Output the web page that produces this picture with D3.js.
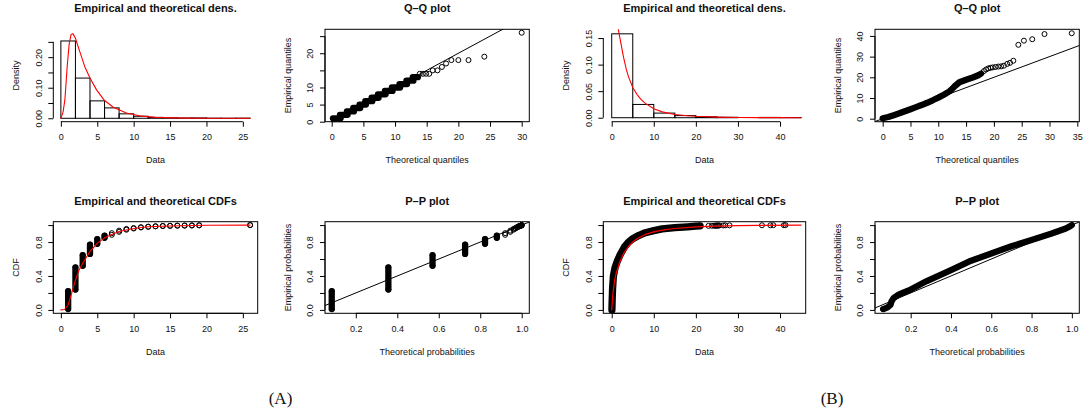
<!DOCTYPE html>
<html>
<head>
<script src="https://d3js.org/d3.v7.min.js"></script>
<title>fitdist diagnostics</title>
<style>
  body { margin: 0; background: #fff; font-family: "Liberation Sans", Arial, sans-serif; }
</style>
</head>
<body>
<div id="chart"></div>
<script>
// ---------------- data ----------------
// (A) discrete sample
const histA_breaks = [0, 2, 4, 6, 8, 10, 12, 14, 16, 18, 20, 22, 24, 26];
const histA_density = [0.253, 0.1316, 0.057, 0.034, 0.0145, 0.0066, 0.003, 0.0015, 0.001, 0.0012, 0.0003, 0.0002, 0.0004];
const densA_x = [0, 0.3, 0.55, 0.87, 1.15, 1.4, 1.65, 2.0, 2.6, 3.3, 4.0, 4.9, 6.0, 7.2, 9.0, 10.8, 13, 17, 21, 26];
const densA_y = [0, 0.02, 0.06, 0.17, 0.245, 0.274, 0.277, 0.262, 0.218, 0.168, 0.132, 0.093, 0.058, 0.036, 0.017, 0.008, 0.003, 0.0006, 0.0001, 0];

const qqA_level = [1, 2, 3, 4, 5, 6, 7, 8, 9, 10, 11, 12, 13];
const qqA_from = [0.2, 1.3, 2.4, 3.4, 4.4, 5.3, 6.3, 7.3, 8.4, 9.5, 10.7, 11.8, 12.8];
const qqA_to = [1.4, 2.5, 3.5, 4.5, 5.4, 6.4, 7.4, 8.5, 9.6, 10.8, 11.9, 12.9, 13.6];
const qqA_ptX = [13.9, 14.4, 14.9, 15.4, 15.95, 16.7, 17.4, 18.06, 18.9, 20.0, 21.6, 24.1, 30.0];
const qqA_ptY = [14, 14, 14, 14, 15, 15, 16, 17, 18, 18, 18, 19, 26];

const cdfA_value = [1, 2, 3, 4, 5, 6, 7, 8, 9, 10, 11, 12, 13, 14, 15, 16, 17, 18, 19, 26];
const empA_low = [0.01, 0.24, 0.52, 0.66, 0.78, 0.85, 0.885, 0.92, 0.945, 0.96, 0.972, 0.98, 0.985, 0.989, 0.991, 0.993, 0.994, 0.995, 0.997, 1.0];
const empA_high = [0.22, 0.50, 0.645, 0.77, 0.835, 0.875, 0.905, 0.935, 0.955, 0.965, 0.975, 0.982, 0.986, 0.99, 0.992, 0.994, 0.995, 0.997, 0.998, 1.0];
const cdfA_theoX = [0, 0.5, 1, 1.5, 2, 2.5, 3, 4, 5, 6, 7, 8, 10, 12, 15, 20, 26];
const cdfA_theoY = [0, 0.005, 0.06, 0.2, 0.35, 0.47, 0.55, 0.69, 0.785, 0.85, 0.89, 0.925, 0.96, 0.98, 0.99, 0.998, 1.0];
const ppA_theo = [0.084, 0.357, 0.57, 0.727, 0.823, 0.88, 0.92, 0.945, 0.96, 0.97, 0.977, 0.983, 0.987, 0.99, 0.993, 0.995, 0.997, 0.998, 0.999, 1.0];

// (B) continuous sample
const histB_breaks = [0, 5, 10, 15, 20, 25, 30, 35, 40, 45];
const histB_density = [0.158, 0.025, 0.0087, 0.004, 0.0017, 0.0008, 0, 0.0006, 0.0004];
const densB_x = [1.3, 1.6, 2, 2.8, 3.5, 4, 5, 6, 7, 8, 10, 12, 15, 18, 20, 25, 30, 35, 40, 45];
const densB_y = [0.185, 0.165, 0.148, 0.114, 0.09, 0.077, 0.057, 0.044, 0.034, 0.027, 0.017, 0.011, 0.0062, 0.0037, 0.0027, 0.0012, 0.0005, 0.0002, 0.0001, 0.00003];

const qqB_denseX = [0, 1, 2, 3, 4, 5, 6, 7, 8, 9, 10, 11, 12, 12.5, 13, 13.8, 15, 16.2, 17.2, 17.7];
const qqB_denseY = [0.2, 0.8, 1.7, 2.6, 3.6, 4.6, 5.6, 6.6, 7.7, 8.9, 10.2, 11.6, 13.2, 14.4, 15.8, 17.6, 18.8, 19.9, 21.0, 21.8];
const qqB_ptX = [18.2, 18.6, 19.0, 19.4, 19.8, 20.3, 20.8, 21.3, 21.8, 22.4, 22.9, 23.5, 24.4, 25.4, 26.9, 29.1, 34.0];
const qqB_ptY = [23.0, 23.8, 24.3, 24.6, 24.8, 25.0, 25.2, 25.3, 25.6, 26.5, 27.0, 28.0, 35.7, 37.7, 38.4, 40.9, 41.3];

const cdfB_denseX = [0.05, 0.1, 0.2, 0.4, 0.8, 1.3, 2, 3, 4, 5, 6.5, 8, 10, 12, 15, 18, 20, 21];
const cdfB_denseY = [0.0, 0.1, 0.25, 0.4, 0.5, 0.57, 0.65, 0.74, 0.8, 0.84, 0.88, 0.91, 0.935, 0.955, 0.97, 0.98, 0.988, 0.99];
const cdfB_ptY = [0.991, 0.992, 0.993, 0.993, 0.994, 0.994, 0.995, 0.995, 0.996, 0.996, 0.997, 0.997, 0.998, 0.998, 0.999, 0.999, 1.0];
const cdfB_theoX = [0, 0.3, 0.7, 1, 1.5, 2, 3, 4, 5, 6, 8, 10, 12, 15, 20, 25, 30, 35, 45];
const cdfB_theoY = [0, 0.2, 0.35, 0.42, 0.5, 0.58, 0.68, 0.75, 0.8, 0.84, 0.89, 0.92, 0.94, 0.96, 0.978, 0.988, 0.994, 0.997, 1.0];

const ppB_denseX = [0.065, 0.085, 0.1, 0.105, 0.115, 0.14, 0.16, 0.2, 0.28, 0.4, 0.5, 0.6, 0.7, 0.8, 0.9, 0.97, 0.99, 1.0];
const ppB_denseY = [0.01, 0.03, 0.06, 0.1, 0.14, 0.18, 0.2, 0.24, 0.34, 0.47, 0.58, 0.665, 0.75, 0.825, 0.9, 0.96, 0.985, 1.0];
const ppB_ptX = [0.062];
const ppB_ptY = [0.01];

// reference line y = x
const refLine = [-5, 60];

// tick values and labels
const ticksDensA_x = [0, 5, 10, 15, 20, 25], labDensA_x = ["0", "5", "10", "15", "20", "25"];
const ticksDensA_y = [0, 0.05, 0.1, 0.15, 0.2, 0.25], labDensA_y = ["0.00", "", "0.10", "", "0.20", ""];
const ticksQqA_x = [0, 5, 10, 15, 20, 25, 30], labQqA_x = ["0", "5", "10", "15", "20", "25", "30"];
const ticksQqA_y = [0, 5, 10, 15, 20, 25], labQqA_y = ["0", "5", "10", "", "20", ""];
const ticksDensB_x = [0, 10, 20, 30, 40], labDensB_x = ["0", "10", "20", "30", "40"];
const ticksDensB_y = [0, 0.05, 0.1, 0.15], labDensB_y = ["0.00", "0.05", "0.10", "0.15"];
const ticksQqB_x = [0, 5, 10, 15, 20, 25, 30, 35], labQqB_x = ["0", "5", "10", "15", "20", "25", "30", "35"];
const ticksQqB_y = [0, 10, 20, 30, 40], labQqB_y = ["0", "10", "20", "30", "40"];
const ticksCdf_y = [0, 0.2, 0.4, 0.6, 0.8, 1.0], labCdf_y = ["0.0", "", "0.4", "", "0.8", ""];
const ticksPp_x = [0.2, 0.4, 0.6, 0.8, 1.0], labPp_x = ["0.2", "0.4", "0.6", "0.8", "1.0"];

// ---------------- drawing ----------------
const W = 1085, H = 417;
const svg = d3.select("#chart").append("svg").attr("width", W).attr("height", H);
const defs = svg.append("defs");
let clipCount = 0;

const R = 2.5;       // point radius
const BAND = 6.3;    // width of a run of overlapping points

function makePanel(p) {
  const x = d3.scaleLinear().domain(p.xDomain).range([p.left, p.right]);
  const y = d3.scaleLinear().domain(p.yDomain).range([p.bottom, p.top]);
  const g = svg.append("g");
  const id = "clip" + (clipCount++);
  defs.append("clipPath").attr("id", id).append("rect")
    .attr("x", p.left).attr("y", p.top)
    .attr("width", p.right - p.left).attr("height", p.bottom - p.top);
  const plot = g.append("g").attr("clip-path", `url(#${id})`);

  if (p.box) {
    g.append("rect").attr("x", p.left).attr("y", p.top)
      .attr("width", p.right - p.left).attr("height", p.bottom - p.top)
      .attr("fill", "none").attr("stroke", "#000").attr("stroke-width", 1);
  }

  // x axis
  const xa = g.append("g").attr("transform", `translate(0,${p.bottom})`)
    .call(d3.axisBottom(x).tickValues(p.xTicks).tickSize(5).tickSizeOuter(0)
      .tickFormat((d, i) => p.xLabels[i]));
  xa.select(".domain").attr("d", `M${x(p.xTicks[0])},0H${x(p.xTicks[p.xTicks.length - 1])}`);
  xa.attr("font-size", 9).attr("font-family", "'Liberation Sans', Arial, sans-serif");
  xa.selectAll("text").attr("y", 18.6).attr("dy", null).attr("fill", "#111");

  // y axis, labels parallel to the axis
  const ya = g.append("g").attr("transform", `translate(${p.left},0)`)
    .call(d3.axisLeft(y).tickValues(p.yTicks).tickSize(5).tickSizeOuter(0)
      .tickFormat((d, i) => p.yLabels[i]));
  ya.select(".domain").attr("d", `M0,${y(p.yTicks[0])}V${y(p.yTicks[p.yTicks.length - 1])}`);
  ya.attr("font-size", 9).attr("font-family", "'Liberation Sans', Arial, sans-serif");
  ya.selectAll("text").attr("transform", "rotate(-90)").attr("x", 0).attr("y", -11.8)
    .attr("dy", null).attr("text-anchor", "middle").attr("fill", "#111");

  const cx = (p.left + p.right) / 2, cy = (p.top + p.bottom) / 2;
  g.append("text").attr("x", cx).attr("y", p.top - 17.1).attr("text-anchor", "middle")
    .attr("font-size", 11).attr("font-weight", "bold").attr("fill", "#111").text(p.title);
  g.append("text").attr("x", cx).attr("y", p.bottom + 41.5).attr("text-anchor", "middle")
    .attr("font-size", 9).attr("fill", "#111").text(p.xlab);
  g.append("text").attr("transform", `translate(${p.left - 34},${cy}) rotate(-90)`)
    .attr("text-anchor", "middle").attr("font-size", 9).attr("fill", "#111").text(p.ylab);

  return { x, y, plot };
}

function hist(P, breaks, dens) {
  P.plot.selectAll(null).data(dens).enter().append("rect")
    .attr("x", (d, i) => P.x(breaks[i]))
    .attr("width", (d, i) => P.x(breaks[i + 1]) - P.x(breaks[i]))
    .attr("y", d => P.y(d))
    .attr("height", d => P.y(0) - P.y(d))
    .attr("fill", "none").attr("stroke", "#000").attr("stroke-width", 1);
}

function curve(P, xs, ys, color, w) {
  P.plot.append("path")
    .datum(xs.map((v, i) => [v, ys[i]]))
    .attr("d", d3.line().x(d => P.x(d[0])).y(d => P.y(d[1])))
    .attr("fill", "none").attr("stroke", color).attr("stroke-width", w)
    .attr("stroke-linejoin", "round").attr("stroke-linecap", "round");
}

function points(P, xs, ys) {
  P.plot.selectAll(null).data(xs).enter().append("circle")
    .attr("cx", d => P.x(d)).attr("cy", (d, i) => P.y(ys[i])).attr("r", R)
    .attr("fill", "none").attr("stroke", "#000").attr("stroke-width", 1);
}

// vertical runs of tied points (ecdf / pp of a discrete sample)
function vStacks(P, xs, lo, hi) {
  xs.forEach((v, i) => {
    if (P.y(lo[i]) - P.y(hi[i]) > 2) {
      P.plot.append("line")
        .attr("x1", P.x(v)).attr("x2", P.x(v)).attr("y1", P.y(lo[i])).attr("y2", P.y(hi[i]))
        .attr("stroke", "#000").attr("stroke-width", BAND).attr("stroke-linecap", "round");
    }
  });
  points(P, xs, lo);
  points(P, xs, hi);
}

function refDiagonal(P) {
  P.plot.append("line")
    .attr("x1", P.x(refLine[0])).attr("y1", P.y(refLine[0]))
    .attr("x2", P.x(refLine[1])).attr("y2", P.y(refLine[1]))
    .attr("stroke", "#000").attr("stroke-width", 1);
}

const colA1 = [53.3, 257.7], colA2 = [325, 529.3], colB1 = [603.3, 805.7], colB2 = [875, 1079.3];
const rowTop = [29.3, 121.7], rowBot = [221.7, 313.3];

// ---- (A) density ----
const dA = makePanel({ left: colA1[0], right: colA1[1], top: rowTop[0], bottom: rowTop[1],
  xDomain: [-1.04, 27.04], yDomain: [-0.0112, 0.2912], box: false,
  xTicks: ticksDensA_x, xLabels: labDensA_x, yTicks: ticksDensA_y, yLabels: labDensA_y,
  title: "Empirical and theoretical dens.", xlab: "Data", ylab: "Density" });
hist(dA, histA_breaks, histA_density);
curve(dA, densA_x, densA_y, "#ff0000", 1.1);

// ---- (A) Q-Q ----
const qA = makePanel({ left: colA2[0], right: colA2[1], top: rowTop[0], bottom: rowTop[1],
  xDomain: [-1.06, 31.2], yDomain: [0, 27], box: true,
  xTicks: ticksQqA_x, xLabels: labQqA_x, yTicks: ticksQqA_y, yLabels: labQqA_y,
  title: "Q\u2013Q plot", xlab: "Theoretical quantiles", ylab: "Empirical quantiles" });
qqA_level.forEach((k, i) => {
  qA.plot.append("line")
    .attr("x1", qA.x(qqA_from[i])).attr("x2", qA.x(qqA_to[i]))
    .attr("y1", qA.y(k)).attr("y2", qA.y(k))
    .attr("stroke", "#000").attr("stroke-width", BAND).attr("stroke-linecap", "round");
});
points(qA, qqA_ptX, qqA_ptY);
refDiagonal(qA);

// ---- (A) CDF ----
const cA = makePanel({ left: colA1[0], right: colA1[1], top: rowBot[0], bottom: rowBot[1],
  xDomain: [-1.04, 27.04], yDomain: [-0.04, 1.04], box: true,
  xTicks: ticksDensA_x, xLabels: labDensA_x, yTicks: ticksCdf_y, yLabels: labCdf_y,
  title: "Empirical and theoretical CDFs", xlab: "Data", ylab: "CDF" });
vStacks(cA, cdfA_value, empA_low, empA_high);
curve(cA, cdfA_theoX, cdfA_theoY, "#ff0000", 1.1);

// ---- (A) P-P ----
const pA = makePanel({ left: colA2[0], right: colA2[1], top: rowBot[0], bottom: rowBot[1],
  xDomain: [0.0515, 1.0365], yDomain: [-0.04, 1.04], box: true,
  xTicks: ticksPp_x, xLabels: labPp_x, yTicks: ticksCdf_y, yLabels: labCdf_y,
  title: "P\u2013P plot", xlab: "Theoretical probabilities", ylab: "Empirical probabilities" });
vStacks(pA, ppA_theo, empA_low, empA_high);
refDiagonal(pA);

// ---- (B) density ----
const dB = makePanel({ left: colB1[0], right: colB1[1], top: rowTop[0], bottom: rowTop[1],
  xDomain: [-2.0, 46.1], yDomain: [-0.0075, 0.1665], box: false,
  xTicks: ticksDensB_x, xLabels: labDensB_x, yTicks: ticksDensB_y, yLabels: labDensB_y,
  title: "Empirical and theoretical dens.", xlab: "Data", ylab: "Density" });
hist(dB, histB_breaks, histB_density);
curve(dB, densB_x, densB_y, "#ff0000", 1.1);

// ---- (B) Q-Q ----
const qB = makePanel({ left: colB2[0], right: colB2[1], top: rowTop[0], bottom: rowTop[1],
  xDomain: [-1.38, 35.36], yDomain: [-1.45, 43.2], box: true,
  xTicks: ticksQqB_x, xLabels: labQqB_x, yTicks: ticksQqB_y, yLabels: labQqB_y,
  title: "Q\u2013Q plot", xlab: "Theoretical quantiles", ylab: "Empirical quantiles" });
curve(qB, qqB_denseX, qqB_denseY, "#000", BAND);
points(qB, qqB_ptX, qqB_ptY);
refDiagonal(qB);

// ---- (B) CDF ----
const cB = makePanel({ left: colB1[0], right: colB1[1], top: rowBot[0], bottom: rowBot[1],
  xDomain: [-2.0, 46.1], yDomain: [-0.04, 1.04], box: true,
  xTicks: ticksDensB_x, xLabels: labDensB_x, yTicks: ticksCdf_y, yLabels: labCdf_y,
  title: "Empirical and theoretical CDFs", xlab: "Data", ylab: "CDF" });
curve(cB, cdfB_denseX, cdfB_denseY, "#000", BAND + 1);
points(cB, qqB_ptY, cdfB_ptY);
curve(cB, cdfB_theoX, cdfB_theoY, "#ff0000", 1.2);

// ---- (B) P-P ----
const pB = makePanel({ left: colB2[0], right: colB2[1], top: rowBot[0], bottom: rowBot[1],
  xDomain: [0.023, 1.037], yDomain: [-0.04, 1.04], box: true,
  xTicks: ticksPp_x, xLabels: labPp_x, yTicks: ticksCdf_y, yLabels: labCdf_y,
  title: "P\u2013P plot", xlab: "Theoretical probabilities", ylab: "Empirical probabilities" });
curve(pB, ppB_denseX, ppB_denseY, "#000", BAND);
points(pB, ppB_ptX, ppB_ptY);
refDiagonal(pB);

// sub-figure captions
const captions = ["(A)", "(B)"];
const captionX = [280.5, 832];
svg.selectAll(null).data(captions).enter().append("text")
  .attr("x", (d, i) => captionX[i]).attr("y", 404)
  .attr("text-anchor", "middle")
  .attr("font-family", "'Liberation Serif', 'DejaVu Serif', serif")
  .attr("font-size", 17).attr("fill", "#111")
  .text(d => d);
</script>
</body>
</html>
